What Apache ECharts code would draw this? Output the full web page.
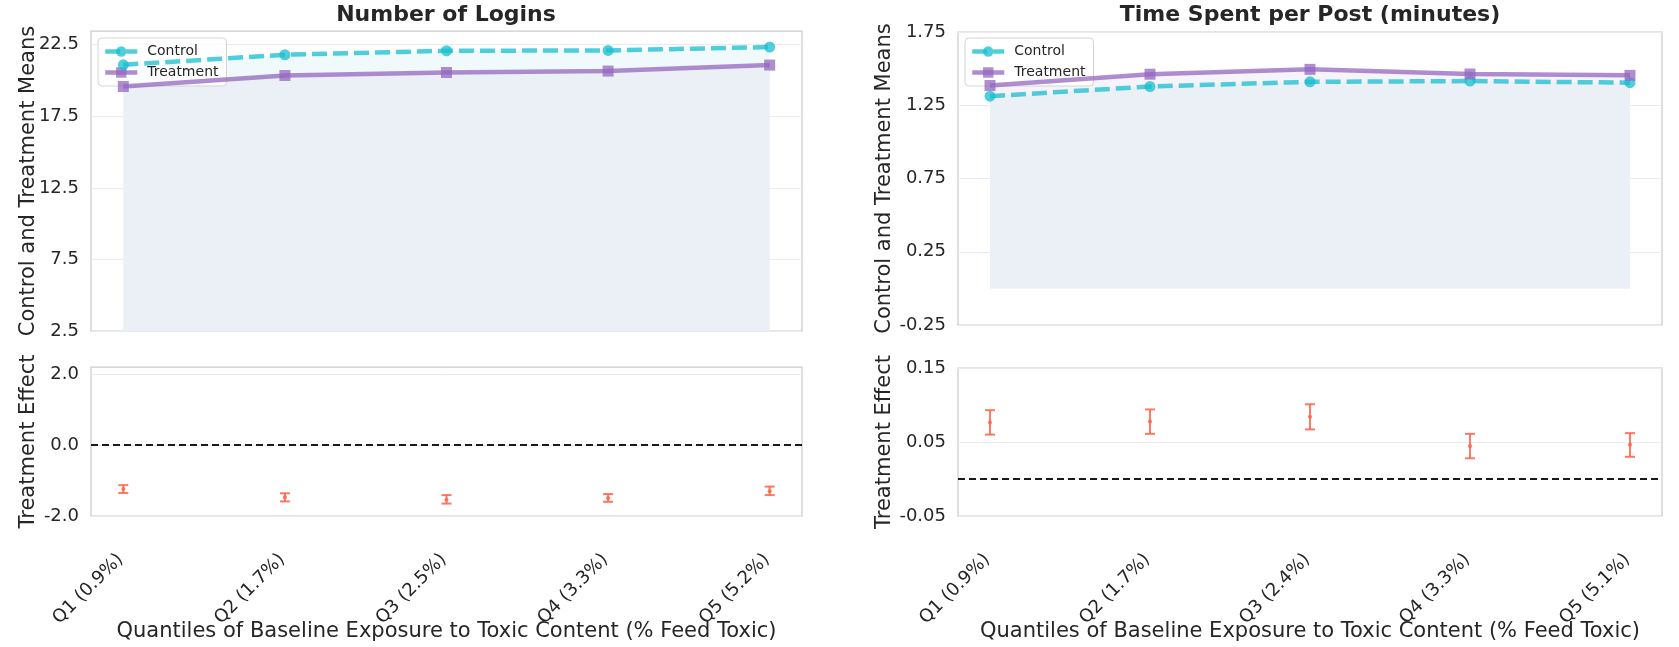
<!DOCTYPE html>
<html>
<head>
<meta charset="utf-8">
<script src="https://cdn.jsdelivr.net/npm/echarts@6/dist/echarts.min.js"></script>
<style>
html,body{margin:0;padding:0;background:#fff;}
#chart{width:1679px;height:647px;}
</style>
</head>
<body>
<div id="chart"></div>
<script>
// ---------------- data ----------------
const categoriesLogins = ['Q1 (0.9%)', 'Q2 (1.7%)', 'Q3 (2.5%)', 'Q4 (3.3%)', 'Q5 (5.2%)'];
const categoriesTime = ['Q1 (0.9%)', 'Q2 (1.7%)', 'Q3 (2.4%)', 'Q4 (3.3%)', 'Q5 (5.1%)'];

const loginsControl = [21.1, 21.8, 22.08, 22.1, 22.34];
const loginsTreatment = [19.58, 20.35, 20.56, 20.66, 21.08];
const loginsEffect = [-1.24, -1.47, -1.54, -1.49, -1.30];
const loginsEffectLow = [-1.35, -1.59, -1.65, -1.60, -1.41];
const loginsEffectHigh = [-1.13, -1.36, -1.41, -1.38, -1.17];

const timeControl = [1.312, 1.378, 1.41, 1.415, 1.404];
const timeTreatment = [1.385, 1.462, 1.495, 1.463, 1.454];
const timeEffect = [0.0763, 0.0776, 0.084, 0.0446, 0.0463];
const timeEffectLow = [0.060, 0.061, 0.067, 0.028, 0.030];
const timeEffectHigh = [0.093, 0.094, 0.101, 0.061, 0.062];

const loginsMeanTicks = [2.5, 7.5, 12.5, 17.5, 22.5];
const loginsMeanRange = [2.5, 23.46];
const loginsEffectTicks = [-2, 0, 2];
const loginsEffectRange = [-2, 2.2];
const timeMeanTicks = [-0.25, 0.25, 0.75, 1.25, 1.75];
const timeMeanRange = [-0.25, 1.75];
const timeEffectTicks = [-0.05, 0.05, 0.15];
const timeEffectRange = [-0.05, 0.15];

const panelTitles = ['Number of Logins', 'Time Spent per Post (minutes)'];
const meanAxisTitle = 'Control and Treatment Means';
const effectAxisTitle = 'Treatment Effect';
const xAxisTitle = 'Quantiles of Baseline Exposure to Toxic Content (% Feed Toxic)';

// ---------------- style ----------------
const FONT = 'DejaVu Sans';
const TXT = '#262626';
const CYAN = '#17becf';
const PURPLE = '#9467bd';
const ERR = '#ff6347';
const BASE_FILL = '#ebf0f6';

const pairs = arr => arr.map((v, i) => [i, v]);
const idx = cats => cats.map((_, i) => i);

function xAxisDef(gridIndex, cats, showLabels) {
  return {
    type: 'value', gridIndex, min: -0.2, max: 4.2,
    axisLine: {show: false},
    axisTick: {show: false, customValues: idx(cats)},
    splitLine: {show: false},
    axisLabel: {
      show: showLabels, customValues: idx(cats), rotate: 45, margin: 38,
      fontFamily: FONT, fontSize: 18, color: TXT,
      padding: [0, 4, 0, 0],
      formatter: v => cats[Math.round(v)]
    },
    name: showLabels ? xAxisTitle : '',
    nameLocation: 'middle', nameGap: 105, nameMoveOverlap: false,
    nameTextStyle: {fontFamily: FONT, fontSize: 21, color: TXT}
  };
}
function yAxisDef(gridIndex, range, ticks, digits, title, gap) {
  return {
    type: 'value', gridIndex, min: range[0], max: range[1],
    axisLine: {show: false},
    axisTick: {show: false, customValues: ticks},
    splitLine: {show: true, lineStyle: {color: '#ebebeb', width: 1}},
    axisLabel: {
      customValues: ticks, margin: 12,
      fontFamily: FONT, fontSize: 18, color: TXT,
      formatter: v => Number(v).toFixed(digits)
    },
    name: title, nameLocation: 'middle', nameGap: gap, nameRotate: 90, nameMoveOverlap: false,
    nameTextStyle: {fontFamily: FONT, fontSize: 21, color: TXT}
  };
}

function fillSeries(axisIdx, data, color, z) {
  return {
    type: 'line', xAxisIndex: axisIdx, yAxisIndex: axisIdx,
    data: pairs(data), showSymbol: false, symbol: 'none',
    lineStyle: {width: 0, opacity: 0},
    areaStyle: {color: color, opacity: 1},
    silent: true, z: z, animation: false
  };
}
function controlSeries(axisIdx, data) {
  return {
    name: 'Control', type: 'line', xAxisIndex: axisIdx, yAxisIndex: axisIdx,
    data: pairs(data), symbol: 'circle', symbolSize: 11,
    lineStyle: {color: CYAN, width: 4.5, type: [15, 6], opacity: 0.75},
    itemStyle: {color: CYAN, opacity: 0.75},
    z: 5, animation: false
  };
}
function treatmentSeries(axisIdx, data) {
  return {
    name: 'Treatment', type: 'line', xAxisIndex: axisIdx, yAxisIndex: axisIdx,
    data: pairs(data), symbol: 'rect', symbolSize: 11,
    lineStyle: {color: PURPLE, width: 4.5, opacity: 0.75},
    itemStyle: {color: PURPLE, opacity: 0.75},
    z: 6, animation: false
  };
}
function errorSeries(axisIdx, mean, lo, hi) {
  return {
    type: 'custom', xAxisIndex: axisIdx, yAxisIndex: axisIdx,
    data: mean.map((m, i) => [i, m, lo[i], hi[i]]),
    encode: {x: 0, y: [1, 2, 3]},
    renderItem: function (params, api) {
      const x = api.value(0);
      const pl = api.coord([x, api.value(2)]);
      const ph = api.coord([x, api.value(3)]);
      const w = 5;
      const st = {stroke: ERR, lineWidth: 2, opacity: 0.85};
      return {
        type: 'group', children: [
          {type: 'line', shape: {x1: pl[0], y1: pl[1], x2: ph[0], y2: ph[1]}, style: st},
          {type: 'line', shape: {x1: pl[0] - w, y1: pl[1], x2: pl[0] + w, y2: pl[1]}, style: st},
          {type: 'line', shape: {x1: ph[0] - w, y1: ph[1], x2: ph[0] + w, y2: ph[1]}, style: st}
        ]
      };
    },
    z: 4, silent: true, animation: false
  };
}
function centerSeries(axisIdx, mean) {
  return {
    type: 'scatter', xAxisIndex: axisIdx, yAxisIndex: axisIdx,
    data: pairs(mean), symbol: 'circle', symbolSize: 4,
    itemStyle: {color: ERR, opacity: 0.85},
    markLine: {
      silent: true, symbol: ['none', 'none'], label: {show: false},
      lineStyle: {color: '#1a1a1a', type: [7, 4], width: 2},
      data: [{yAxis: 0}], animation: false
    },
    z: 5, silent: true, animation: false
  };
}
function legendDef(left) {
  return {
    left: left, top: 38, orient: 'vertical',
    data: ['Control', 'Treatment'],
    itemWidth: 32, itemHeight: 13, itemGap: 4,
    padding: [5, 8, 5, 5],
    backgroundColor: 'rgba(255,255,255,0.8)',
    borderColor: '#d4d4d4', borderWidth: 1, borderRadius: 4,
    lineStyle: {width: 4.5},
    textStyle: {fontFamily: FONT, fontSize: 14, color: TXT, lineHeight: 17, padding: [0, 0, 0, 5]},
    selectedMode: false
  };
}

const gridStyle = {show: true, borderColor: '#cccccc', borderWidth: 1.25, backgroundColor: 'transparent',
  containLabel: false, outerBoundsMode: 'none'};

const option = {
  backgroundColor: '#ffffff',
  animation: false,
  title: [
    {text: panelTitles[0], left: 446, top: 4, textAlign: 'center', padding: 0,
     textStyle: {fontFamily: FONT, fontSize: 22, fontWeight: 'bold', color: TXT}},
    {text: panelTitles[1], left: 1310, top: 4, textAlign: 'center', padding: 0,
     textStyle: {fontFamily: FONT, fontSize: 22, fontWeight: 'bold', color: TXT}}
  ],
  legend: [legendDef(98), legendDef(965)],
  grid: [
    Object.assign({left: 91, top: 31, width: 711, height: 300}, gridStyle),
    Object.assign({left: 91, top: 367, width: 711, height: 149}, gridStyle),
    Object.assign({left: 958, top: 32, width: 704, height: 293}, gridStyle),
    Object.assign({left: 958, top: 368, width: 704, height: 148}, gridStyle)
  ],
  xAxis: [
    xAxisDef(0, categoriesLogins, false),
    xAxisDef(1, categoriesLogins, true),
    xAxisDef(2, categoriesTime, false),
    xAxisDef(3, categoriesTime, true)
  ],
  yAxis: [
    yAxisDef(0, loginsMeanRange, loginsMeanTicks, 1, meanAxisTitle, 52),
    yAxisDef(1, loginsEffectRange, loginsEffectTicks, 1, effectAxisTitle, 52),
    yAxisDef(2, timeMeanRange, timeMeanTicks, 2, meanAxisTitle, 63),
    yAxisDef(3, timeEffectRange, timeEffectTicks, 2, effectAxisTitle, 63)
  ],
  series: [
    fillSeries(0, loginsControl, '#f0f9fb', 1),
    fillSeries(0, loginsTreatment, BASE_FILL, 2),
    controlSeries(0, loginsControl),
    treatmentSeries(0, loginsTreatment),
    errorSeries(1, loginsEffect, loginsEffectLow, loginsEffectHigh),
    centerSeries(1, loginsEffect),
    fillSeries(2, timeTreatment, '#f6f3fa', 1),
    fillSeries(2, timeControl, BASE_FILL, 2),
    controlSeries(2, timeControl),
    treatmentSeries(2, timeTreatment),
    errorSeries(3, timeEffect, timeEffectLow, timeEffectHigh),
    centerSeries(3, timeEffect)
  ]
};

const chart = echarts.init(document.getElementById('chart'), null, {renderer: 'canvas'});
chart.setOption(option);
</script>
</body>
</html>
